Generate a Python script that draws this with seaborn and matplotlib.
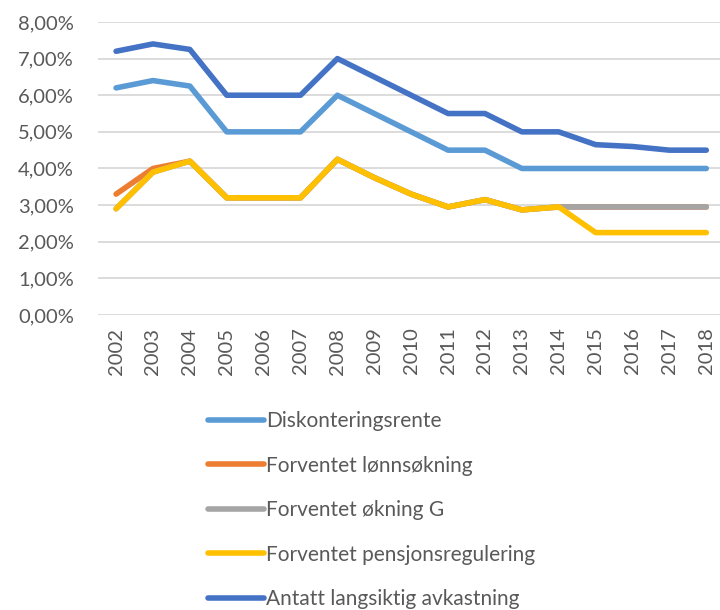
import pandas as pd
import matplotlib
matplotlib.use("Agg")
import matplotlib.pyplot as plt
import seaborn as sns
from matplotlib.ticker import FuncFormatter

years = [str(y) for y in range(2002, 2019)]

diskonteringsrente = [6.2, 6.4, 6.25, 5.0, 5.0, 5.0, 6.0, 5.5, 5.0, 4.5, 4.5, 4.0, 4.0, 4.0, 4.0, 4.0, 4.0]
lonnsokning = [3.3, 4.0, 4.2, 3.2, 3.2, 3.2, 4.25, 3.75, 3.3, 2.95, 3.15, 2.87, 2.95, 2.95, 2.95, 2.95, 2.95]
okning_g = [2.9, 3.9, 4.2, 3.2, 3.2, 3.2, 4.25, 3.75, 3.3, 2.95, 3.15, 2.87, 2.95, 2.95, 2.95, 2.95, 2.95]
pensjonsregulering = [2.9, 3.9, 4.2, 3.2, 3.2, 3.2, 4.25, 3.75, 3.3, 2.95, 3.15, 2.87, 2.95, 2.25, 2.25, 2.25, 2.25]
avkastning = [7.2, 7.4, 7.25, 6.0, 6.0, 6.0, 7.0, 6.5, 6.0, 5.5, 5.5, 5.0, 5.0, 4.65, 4.6, 4.5, 4.5]

series_names = ["Diskonteringsrente", "Forventet lønnsøkning", "Forventet økning G",
                "Forventet pensjonsregulering", "Antatt langsiktig avkastning"]
series_values = [diskonteringsrente, lonnsokning, okning_g, pensjonsregulering, avkastning]
colors = ["#5B9BD5", "#ED7D31", "#A5A5A5", "#FFC000", "#4472C4"]

rows = []
for name, vals in zip(series_names, series_values):
    for yr, v in zip(years, vals):
        rows.append({"År": yr, "Verdi": v, "Serie": name})
df = pd.DataFrame(rows)

sns.set_style("white")
plt.rcParams["font.family"] = ["Lato", "DejaVu Sans"]
text_color = "#595959"

fig = plt.figure(figsize=(7.2, 6.1), dpi=100)

ax = fig.add_axes([0.1356, 0.4836, 0.871, 0.4804])

sns.lineplot(data=df, x="År", y="Verdi", hue="Serie", hue_order=series_names,
             palette=colors, linewidth=4.0, ax=ax, legend=False, sort=False)
for line in ax.lines:
    line.set_solid_capstyle("round")
    line.set_solid_joinstyle("round")

ax.set_ylim(0, 8)
ax.set_xlim(-0.5, len(years) - 0.5)
ax.set_yticks(range(0, 9))
ax.yaxis.set_major_formatter(FuncFormatter(lambda v, p: f"{v:.2f}%".replace(".", ",")))
ax.grid(axis="y", color="#D9D9D9", linewidth=1.3)
ax.grid(axis="x", visible=False)
ax.set_axisbelow(True)
for s in ax.spines.values():
    s.set_visible(False)
ax.tick_params(axis="both", length=0, colors=text_color, labelsize=14.5)
ax.tick_params(axis="y", pad=17)
ax.tick_params(axis="x", pad=9)
plt.setp(ax.get_xticklabels(), rotation=90)
ax.set_xlabel("")
ax.set_ylabel("")

handles = [plt.Line2D([], [], color=c, linewidth=4.0, solid_capstyle="round") for c in colors]
leg = fig.legend(handles, series_names, loc="upper left", bbox_to_anchor=(0.278, 0.34),
                 frameon=False, fontsize=15, handlelength=2.65, handletextpad=0.12,
                 labelspacing=1.18, borderaxespad=0)
for t in leg.get_texts():
    t.set_color(text_color)

fig.savefig("out.png", dpi=100)
